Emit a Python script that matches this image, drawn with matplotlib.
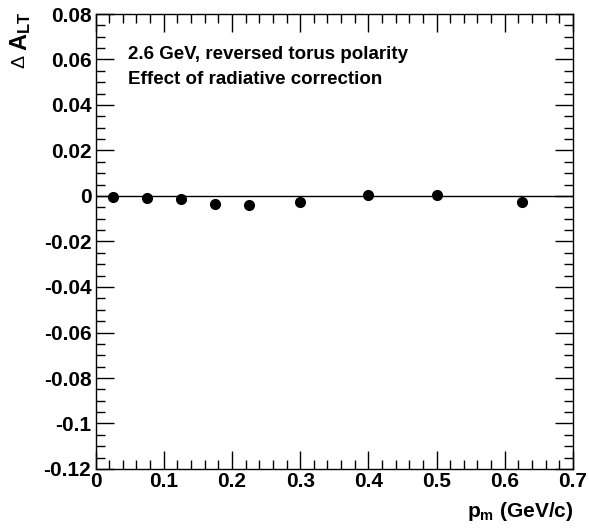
import numpy as np
import matplotlib.pyplot as plt
from matplotlib.ticker import MultipleLocator

plt.rcParams['font.family'] = ['Liberation Sans', 'DejaVu Sans']
plt.rcParams['font.weight'] = 'bold'
plt.rcParams['mathtext.fontset'] = 'custom'
plt.rcParams['mathtext.bf'] = 'Liberation Sans:bold'
plt.rcParams['mathtext.rm'] = 'Liberation Sans'
plt.rcParams['mathtext.default'] = 'bf'

# data
pm = [0.025, 0.075, 0.125, 0.175, 0.225, 0.3, 0.4, 0.5, 0.625]
dalt = [-0.0006, -0.0007, -0.0013, -0.0033, -0.004, -0.0028, 0.0006, 0.0003, -0.0027]

W, H = 589, 532
fig = plt.figure(figsize=(W / 100, H / 100), dpi=100)
ax = fig.add_axes([95.5 / W, 1 - 469 / H, (573 - 95.5) / W, (469 - 14) / H])

ax.axhline(0, color='black', lw=1)
ax.plot(pm, dalt, 'o', color='black', ms=7)

ax.set_xlim(0, 0.7)
ax.set_ylim(-0.12, 0.08)
ax.xaxis.set_major_locator(MultipleLocator(0.1))
ax.xaxis.set_minor_locator(MultipleLocator(0.02))
ax.yaxis.set_major_locator(MultipleLocator(0.02))
ax.yaxis.set_minor_locator(MultipleLocator(0.005))
ax.tick_params(which='both', direction='in', top=True, right=True, width=1)
ax.tick_params(which='major', length=13, labelsize=15)
ax.tick_params(which='minor', length=6.5)
ax.tick_params(axis='x', pad=2.5)
ax.tick_params(axis='y', pad=3)

ax.xaxis.set_major_formatter(plt.FuncFormatter(lambda v, p: '0' if abs(v) < 1e-9 else ('%.1f' % v)))
ax.yaxis.set_major_formatter(plt.FuncFormatter(lambda v, p: '0' if abs(v) < 1e-9 else ('%g' % round(v, 2))))
for s in ax.spines.values():
    s.set_linewidth(1)

fig.text(128 / W, 1 - 59 / H, '2.6 GeV, reversed torus polarity', fontsize=13.5,
         fontweight='bold', va='baseline')
fig.text(128 / W, 1 - 84 / H, 'Effect of radiative correction', fontsize=13.5,
         fontweight='bold', va='baseline')

# axis titles
fig.text(573 / W, 1 - 517 / H, r'p$_{m}$ (GeV/c)', ha='right', va='baseline', fontsize=15,
         fontweight='bold')
fig.text(21 / W, 1 - 12 / H, r'A$_{LT}$', rotation=90, ha='center', va='top',
         fontsize=17, fontweight='bold')
fig.text(20 / W, 1 - 61 / H, '\u0394', rotation=90, ha='center', va='center',
         fontsize=14, fontweight='normal')

fig.savefig('out.png', dpi=100)
